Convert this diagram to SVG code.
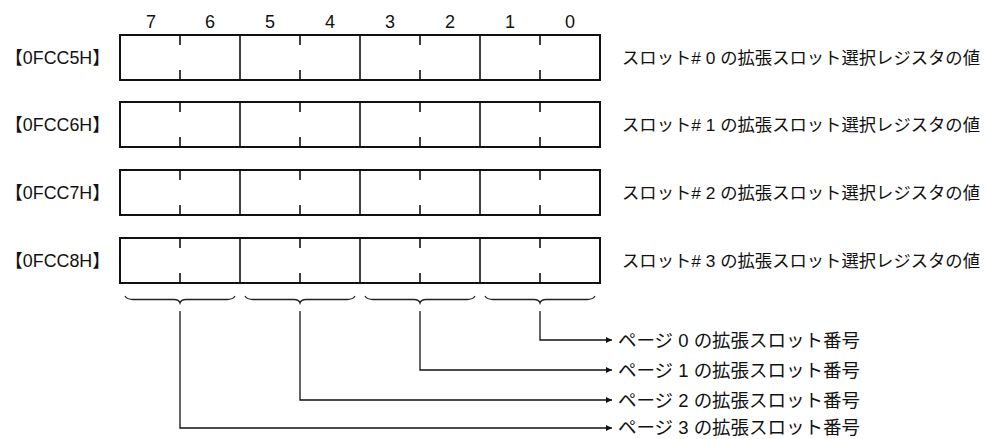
<svg xmlns="http://www.w3.org/2000/svg" width="988" height="439" viewBox="0 0 988 439">
<style>
text{font-family:"Liberation Sans","Noto Sans CJK JP",sans-serif;fill:#111;}
.bit{font-size:18px;text-anchor:middle;}
.addr{font-size:18px;}
.lbl{font-size:17px;}
.pg{font-size:18px;}
.box{fill:#fff;stroke:#111;stroke-width:2;}
.div{stroke:#111;stroke-width:1.6;fill:none;}
.tick{stroke:#111;stroke-width:1.6;}
.brace{fill:none;stroke:#222;stroke-width:1.3;}
.conn{fill:none;stroke:#111;stroke-width:1.3;}
</style>
<defs>
<marker id="arr" markerWidth="8" markerHeight="8" refX="6" refY="4" orient="auto" markerUnits="userSpaceOnUse">
<path d="M0,1 L6,4 L0,7 Z" fill="#111"/>
</marker>
<g id="reg">
<rect class="box" x="120" y="0" width="480" height="45"/>
<path class="div" d="M240,0V45M360,0V45M480,0V45"/>
<path class="tick" d="M180,0V10M180,35V45M300,0V10M300,35V45M420,0V10M420,35V45M540,0V10M540,35V45"/>
</g>
</defs>
<g id="bits">
<text class="bit" x="151" y="28">7</text>
<text class="bit" x="210" y="28">6</text>
<text class="bit" x="270" y="28">5</text>
<text class="bit" x="330" y="28">4</text>
<text class="bit" x="390" y="28">3</text>
<text class="bit" x="450" y="28">2</text>
<text class="bit" x="510" y="28">1</text>
<text class="bit" x="570" y="28">0</text>
</g>
<g id="row0">
<text class="addr" x="5" y="64" textLength="105" lengthAdjust="spacingAndGlyphs">【0FCC5H】</text>
<use href="#reg" y="35"/>
<text class="lbl" x="622" y="64" textLength="358" lengthAdjust="spacingAndGlyphs">スロット# 0 の拡張スロット選択レジスタの値</text>
</g>
<g id="row1">
<text class="addr" x="5" y="131" textLength="105" lengthAdjust="spacingAndGlyphs">【0FCC6H】</text>
<use href="#reg" y="102"/>
<text class="lbl" x="622" y="131" textLength="358" lengthAdjust="spacingAndGlyphs">スロット# 1 の拡張スロット選択レジスタの値</text>
</g>
<g id="row2">
<text class="addr" x="5" y="199" textLength="105" lengthAdjust="spacingAndGlyphs">【0FCC7H】</text>
<use href="#reg" y="170"/>
<text class="lbl" x="622" y="199" textLength="358" lengthAdjust="spacingAndGlyphs">スロット# 2 の拡張スロット選択レジスタの値</text>
</g>
<g id="row3">
<text class="addr" x="5" y="267" textLength="105" lengthAdjust="spacingAndGlyphs">【0FCC8H】</text>
<use href="#reg" y="238"/>
<text class="lbl" x="622" y="267" textLength="358" lengthAdjust="spacingAndGlyphs">スロット# 3 の拡張スロット選択レジスタの値</text>
</g>
<g id="braces">
<path class="brace" d="M125,296 Q127,299.5 133,299.5 L174,299.5 Q179,299.5 180,303 Q181,299.5 186,299.5 L227,299.5 Q233,299.5 235,296"/>
<path class="brace" d="M245,296 Q247,299.5 253,299.5 L294,299.5 Q299,299.5 300,303 Q301,299.5 306,299.5 L347,299.5 Q353,299.5 355,296"/>
<path class="brace" d="M365,296 Q367,299.5 373,299.5 L414,299.5 Q419,299.5 420,303 Q421,299.5 426,299.5 L467,299.5 Q473,299.5 475,296"/>
<path class="brace" d="M485,296 Q487,299.5 493,299.5 L534,299.5 Q539,299.5 540,303 Q541,299.5 546,299.5 L587,299.5 Q593,299.5 595,296"/>
</g>
<g id="connectors">
<path class="conn" d="M540,311V340H612" marker-end="url(#arr)"/>
<path class="conn" d="M420,311V370H612" marker-end="url(#arr)"/>
<path class="conn" d="M300,311V400H612" marker-end="url(#arr)"/>
<path class="conn" d="M180,311V428H612" marker-end="url(#arr)"/>
</g>
<g id="pages">
<text class="pg" x="618" y="346.5" textLength="242" lengthAdjust="spacingAndGlyphs">ページ 0 の拡張スロット番号</text>
<text class="pg" x="618" y="376.5" textLength="242" lengthAdjust="spacingAndGlyphs">ページ 1 の拡張スロット番号</text>
<text class="pg" x="618" y="406.5" textLength="242" lengthAdjust="spacingAndGlyphs">ページ 2 の拡張スロット番号</text>
<text class="pg" x="618" y="434" textLength="242" lengthAdjust="spacingAndGlyphs">ページ 3 の拡張スロット番号</text>
</g>
</svg>
